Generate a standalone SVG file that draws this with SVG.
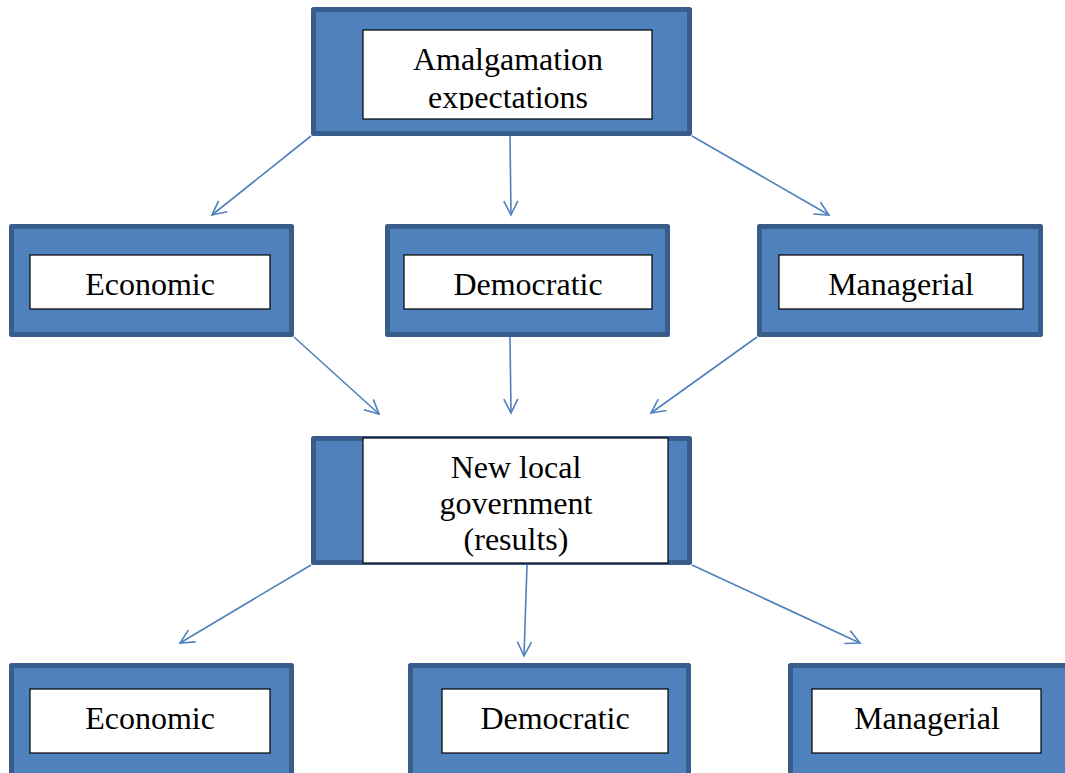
<svg xmlns="http://www.w3.org/2000/svg" width="1065" height="773" viewBox="0 0 1065 773">
<defs>
<style>
.outer{fill:#4F81BD;stroke:#385D8A;stroke-width:5;stroke-linejoin:round}
.inner{fill:#FFFFFF;stroke:#000000;stroke-width:1.2}
.lbl{font-family:'Liberation Serif','Times New Roman',serif;font-size:32px;fill:#000;text-anchor:middle}
.conn{stroke:#4F81BD;stroke-width:1.6;fill:none;marker-end:url(#ah)}
</style>
<marker id="ah" viewBox="0 0 20 20" refX="17" refY="10" markerWidth="20" markerHeight="20" markerUnits="userSpaceOnUse" orient="auto">
<path d="M3,3 L17,10 L3,17" fill="none" stroke="#4F81BD" stroke-width="1.6"/>
</marker>
<clipPath id="clipTop"><rect x="363" y="30" width="289" height="80"/></clipPath>
</defs>
<rect width="1065" height="773" fill="#FFFFFF"/>
<g id="connectors">
<line class="conn" x1="311" y1="136" x2="212" y2="215"/>
<line class="conn" x1="510" y1="136" x2="511" y2="215"/>
<line class="conn" x1="692" y1="136" x2="829" y2="215"/>
<line class="conn" x1="294" y1="337" x2="379" y2="414"/>
<line class="conn" x1="510" y1="337" x2="511" y2="413"/>
<line class="conn" x1="757" y1="337" x2="651" y2="413"/>
<line class="conn" x1="311" y1="565" x2="180" y2="643"/>
<line class="conn" x1="527" y1="565" x2="524" y2="656"/>
<line class="conn" x1="692" y1="565" x2="860" y2="643"/>
</g>
<g id="amalgamation">
<rect class="outer" x="313.5" y="9.5" width="376" height="124"/>
<rect class="inner" x="363" y="30" width="289" height="89"/>
<g clip-path="url(#clipTop)">
<text class="lbl" x="508" y="70">Amalgamation</text>
<text class="lbl" x="508" y="108">expectations</text>
</g>
</g>
<g id="economic1">
<rect class="outer" x="11.5" y="226.5" width="280" height="108"/>
<rect class="inner" x="30" y="255" width="240" height="54"/>
<text class="lbl" x="150" y="295">Economic</text>
</g>
<g id="democratic1">
<rect class="outer" x="387.5" y="226.5" width="280" height="108"/>
<rect class="inner" x="404" y="255" width="248" height="54"/>
<text class="lbl" x="528" y="295">Democratic</text>
</g>
<g id="managerial1">
<rect class="outer" x="759.5" y="226.5" width="281" height="108"/>
<rect class="inner" x="779" y="255" width="244" height="54"/>
<text class="lbl" x="901" y="295">Managerial</text>
</g>
<g id="newlocal">
<rect class="outer" x="313.5" y="438.5" width="376" height="124"/>
<rect class="inner" x="363" y="438" width="305" height="125"/>
<text class="lbl" x="516" y="478">New local</text>
<text class="lbl" x="516" y="514">government</text>
<text class="lbl" x="516" y="550">(results)</text>
</g>
<g id="economic2">
<rect class="outer" x="11.5" y="665.5" width="280" height="120"/>
<rect class="inner" x="30" y="689" width="240" height="64"/>
<text class="lbl" x="150" y="729">Economic</text>
</g>
<g id="democratic2">
<rect class="outer" x="410.5" y="665.5" width="278" height="120"/>
<rect class="inner" x="442" y="689" width="226" height="64"/>
<text class="lbl" x="555" y="729">Democratic</text>
</g>
<g id="managerial2">
<rect class="outer" x="790.5" y="665.5" width="290" height="120"/>
<rect class="inner" x="812" y="689" width="229" height="64"/>
<text class="lbl" x="927" y="729">Managerial</text>
</g>
</svg>
